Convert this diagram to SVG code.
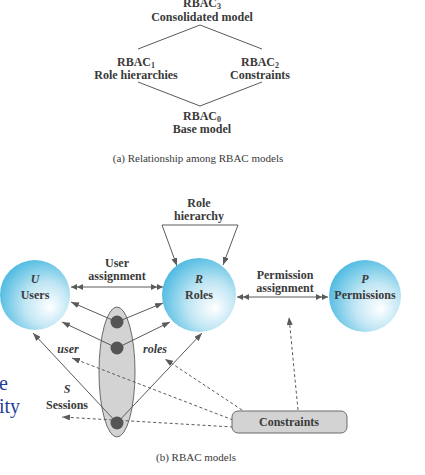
<svg xmlns="http://www.w3.org/2000/svg" width="425" height="475" viewBox="0 0 425 475">
<style>
text{font-family:"Liberation Serif","Times New Roman",serif;fill:#3a3a3a}
.b{font-weight:bold;font-size:12px}
.bi{font-weight:bold;font-style:italic;font-size:12px}
.cap{font-size:11px}
.ln{stroke:#5a5a5a;stroke-width:1;fill:none}
.ds{stroke:#5a5a5a;stroke-width:1;fill:none;stroke-dasharray:3,2.5}
.slide{fill:#1f3d99;font-size:20px}
</style>
<defs>
<radialGradient id="ball" cx="0.62" cy="0.6" r="0.64" fx="0.72" fy="0.68">
<stop offset="0" stop-color="#ffffff"/>
<stop offset="0.5" stop-color="#c0e6f4"/>
<stop offset="1" stop-color="#52bce2"/>
</radialGradient>
<marker id="ah" viewBox="0 0 8 6" refX="8" refY="3" markerWidth="8" markerHeight="6" markerUnits="userSpaceOnUse" orient="auto">
<path d="M0,0 L8,3 L0,6 Z" fill="#5a5a5a"/>
</marker>
<marker id="ah2" viewBox="0 0 12 6" refX="12" refY="3" markerWidth="12" markerHeight="6" markerUnits="userSpaceOnUse" orient="auto-start-reverse">
<path d="M0,0 L6,3 L0,6 Z M6,0 L12,3 L6,6 Z" fill="#5a5a5a"/>
</marker>
</defs>

<g id="part-a">
<g id="connectors-a">
<path class="ln" d="M138,49 L200,25 L262,49"/>
<path class="ln" d="M138,82 L200,106 L262,82"/>
</g>
<g id="rbac3"><text class="b" x="202" y="7" text-anchor="middle">RBAC<tspan font-size="8" dy="1.5">3</tspan></text><text class="b" x="202" y="21" text-anchor="middle">Consolidated model</text></g>
<g id="rbac1"><text class="b" x="136" y="66" text-anchor="middle">RBAC<tspan font-size="8" dy="1.5">1</tspan></text><text class="b" x="136" y="79" text-anchor="middle">Role hierarchies</text></g>
<g id="rbac2"><text class="b" x="260" y="66" text-anchor="middle">RBAC<tspan font-size="8" dy="1.5">2</tspan></text><text class="b" x="260" y="79" text-anchor="middle">Constraints</text></g>
<g id="rbac0"><text class="b" x="202" y="120" text-anchor="middle">RBAC<tspan font-size="8" dy="1.5">0</tspan></text><text class="b" x="202" y="133" text-anchor="middle">Base model</text></g>
<text class="cap" x="198" y="162" text-anchor="middle">(a) Relationship among RBAC models</text>
</g>

<g id="part-b">
<g id="sessions-shape">
<ellipse cx="117" cy="372" rx="18" ry="65" fill="#d3d3d3" stroke="#6a6a6a" stroke-width="1"/>
</g>
<g id="connectors">
<path class="ln" d="M162,225 L238,225"/>
<path class="ln" d="M162,225 L177,266" marker-end="url(#ah)"/>
<path class="ln" d="M238,225 L223,265" marker-end="url(#ah)"/>
<path class="ln" d="M71,287 L163,287" marker-start="url(#ah2)" marker-end="url(#ah2)"/>
<path class="ln" d="M237,297 L328,297" marker-start="url(#ah2)" marker-end="url(#ah2)"/>
<path class="ln" d="M117,322 L71,302" marker-end="url(#ah)"/>
<path class="ln" d="M117,322 L163,303" marker-end="url(#ah)"/>
<path class="ln" d="M117,348 L62,322" marker-end="url(#ah)"/>
<path class="ln" d="M117,348 L170,322" marker-end="url(#ah)"/>
<path class="ln" d="M117,423 L33,333" marker-end="url(#ah)"/>
<path class="ln" d="M117,423 L202,333" marker-end="url(#ah)"/>
<path class="ds" d="M233,420 L72,358" marker-end="url(#ah)"/>
<path class="ds" d="M233,427 L62,417" marker-end="url(#ah)"/>
<path class="ds" d="M242,410 L165,359" marker-end="url(#ah)"/>
<path class="ds" d="M298,410 L289,317" marker-end="url(#ah)"/>
</g>
<g id="session-dots" fill="#555">
<circle cx="117" cy="322" r="6.5"/>
<circle cx="117" cy="348" r="6.5"/>
<circle cx="117" cy="423" r="6.5"/>
</g>
<g id="users">
<circle cx="35" cy="295" r="35" fill="url(#ball)"/>
<text class="bi" x="35" y="283" text-anchor="middle">U</text>
<text class="b" x="35" y="299" text-anchor="middle">Users</text>
</g>
<g id="roles">
<circle cx="199" cy="295" r="37" fill="url(#ball)"/>
<text class="bi" x="199" y="283" text-anchor="middle">R</text>
<text class="b" x="199" y="299" text-anchor="middle">Roles</text>
</g>
<g id="permissions">
<circle cx="365" cy="296" r="36" fill="url(#ball)"/>
<text class="bi" x="365" y="283" text-anchor="middle">P</text>
<text class="b" x="365" y="299" text-anchor="middle">Permissions</text>
</g>
<g id="constraints">
<rect x="232" y="411" width="115" height="22" rx="6" fill="#d3d3d3" stroke="#6a6a6a" stroke-width="1"/>
<text class="b" x="289" y="426" text-anchor="middle">Constraints</text>
</g>
<g id="labels">
<text class="b" x="199" y="207" text-anchor="middle">Role</text>
<text class="b" x="199" y="220" text-anchor="middle">hierarchy</text>
<text class="b" x="117" y="267" text-anchor="middle">User</text>
<text class="b" x="117" y="280" text-anchor="middle">assignment</text>
<text class="b" x="285" y="279" text-anchor="middle">Permission</text>
<text class="b" x="285" y="292" text-anchor="middle">assignment</text>
<text class="bi" x="68" y="353" text-anchor="middle" font-size="11">user</text>
<text class="bi" x="155" y="353" text-anchor="middle" font-size="11">roles</text>
<text class="bi" x="67" y="393" text-anchor="middle">S</text>
<text class="b" x="67" y="409" text-anchor="middle">Sessions</text>
</g>
<text class="cap" x="196" y="461" text-anchor="middle">(b) RBAC models</text>
</g>

<text class="slide" x="-1" y="390">e</text>
<text class="slide" x="-1" y="413">ity</text>
</svg>
